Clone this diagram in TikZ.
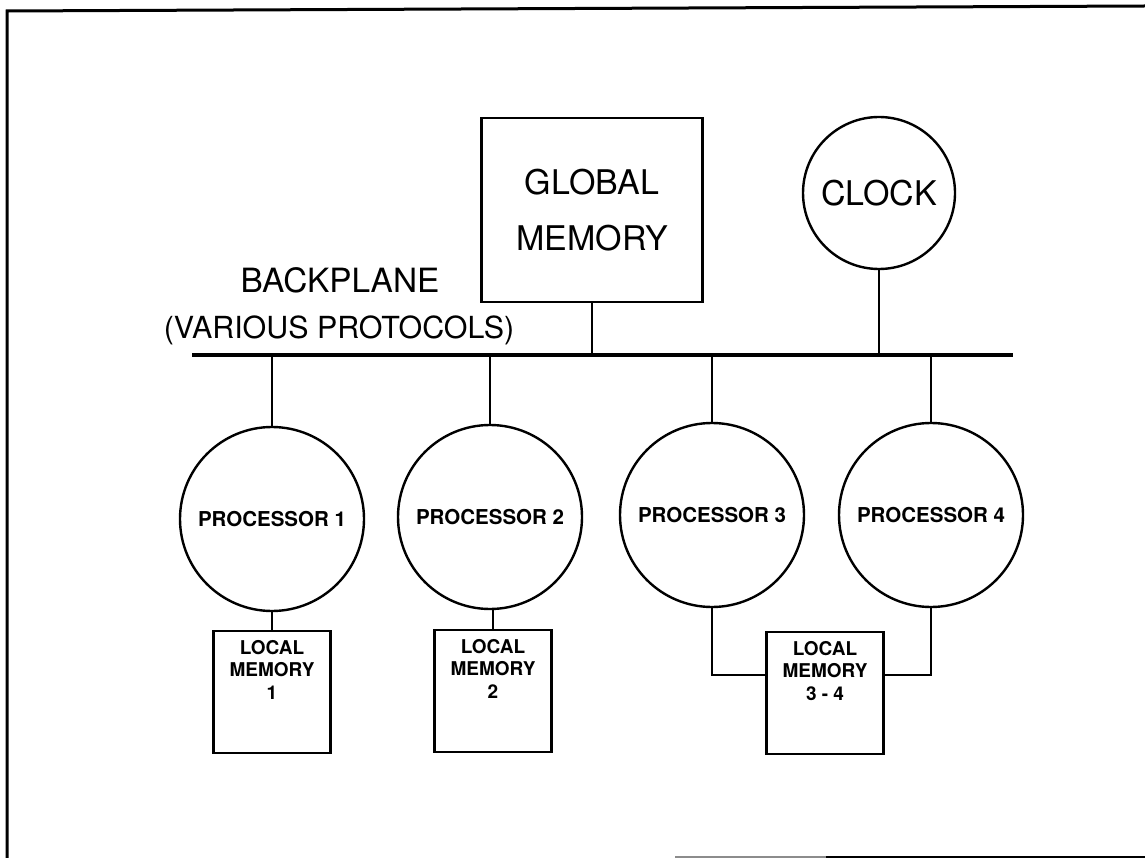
\documentclass[tikz,border=0pt]{standalone}
\usepackage{fontspec}
\setmainfont{TeX Gyre Heros}
\begin{document}
\begin{tikzpicture}[x=1pt,y=-1pt,
  framel/.style={line width=3pt},
  busl/.style={line width=4pt},
  wire/.style={line width=1.2pt},
  proc/.style={circle, draw, line width=2.4pt, minimum size=184pt, inner sep=0pt,
    font=\bfseries\fontsize{20.5}{24}\selectfont},
  bigbox/.style={draw, line width=2.6pt, minimum width=221pt, minimum height=184pt,
    inner sep=0pt, align=center, font=\fontsize{34}{56}\selectfont},
  clockc/.style={circle, draw, line width=2.4pt, minimum size=152pt, inner sep=0pt,
    font=\fontsize{34}{40}\selectfont},
  biglabel/.style={inner sep=0pt, anchor=base},
  lmbox/.style={draw, line width=2.2pt, minimum width=117pt, minimum height=122pt, inner sep=0pt},
  lmtext/.style={inner sep=0pt, anchor=north, align=center,
    font=\bfseries\fontsize{19}{22.5}\selectfont}
]
\useasboundingbox (0,0) rectangle (1145,858);
% frame
\coordinate (fbl) at (7,858);
\coordinate (ftl) at (7,11);
\coordinate (ftr) at (1145,6);
\coordinate (fb1) at (675,857);
\coordinate (fb2) at (826,857);
\coordinate (fb3) at (1145,857);
\draw[framel] (fbl) -- (ftl) -- (ftr);
\draw[framel, black!45] (fb1) -- (fb2);
\draw[framel] (fb2) -- (fb3);

% bus
\coordinate (busL) at (192,355);
\coordinate (busR) at (1013,355);
\draw[busl] (busL) -- (busR);

% labels
\node[biglabel, font=\fontsize{33.4}{38}\selectfont] (bp) at (340,293) {BACKPLANE};
\node[biglabel, font=\fontsize{30.4}{36}\selectfont] (vp) at (339,338) {(VARIOUS PROTOCOLS)};

% global memory and clock
\node[bigbox] (gm) at (592,210) {GLOBAL\\MEMORY};
\node[clockc] (clk) at (879,193) {CLOCK};
\draw[wire] (gm.south) -- (gm.south |- busL);
\draw[wire] (clk.south) -- (clk.south |- busL);

% processors
\node[proc] (p1) at (272,519) {PROCESSOR 1};
\node[proc] (p2) at (490,517) {PROCESSOR 2};
\node[proc] (p3) at (712,515) {PROCESSOR 3};
\node[proc] (p4) at (931,515) {PROCESSOR 4};
\foreach \p in {p1,p2,p3,p4}{
  \draw[wire] (\p.north) -- (\p.north |- busL);
}

% local memories
\node[lmbox] (lm1) at (272,692) {};
\node[lmbox] (lm2) at (493,691) {};
\node[lmbox] (lm34) at (825,693) {};
\node[lmtext] (lm1t) at ([yshift=-10pt]lm1.north) {LOCAL\\MEMORY\\1};
\node[lmtext] (lm2t) at ([yshift=-10pt]lm2.north) {LOCAL\\MEMORY\\2};
\node[lmtext] (lm34t) at ([yshift=-10pt]lm34.north) {LOCAL\\MEMORY\\3 - 4};

\draw[wire] (p1.south) -- (p1.south |- lm1.north);
\draw[wire] (p2.south -| lm2.north) -- (lm2.north);
\draw[wire] (p3.south) |- (lm34.west |- 0,675);
\draw[wire] (p4.south) |- (lm34.east |- 0,675);
\end{tikzpicture}
\end{document}
